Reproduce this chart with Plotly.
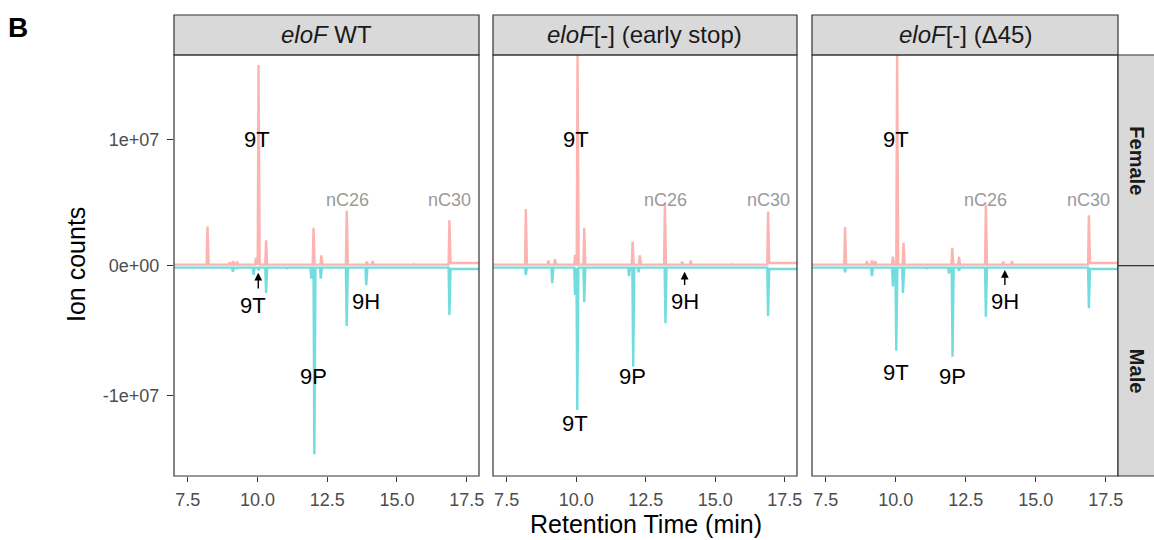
import plotly.graph_objects as go

W, H = 1154, 540

genotypes = ["<i>eloF</i> WT", "<i>eloF</i>[-] (early stop)", "<i>eloF</i>[-] (Δ45)"]
sexes = ["Female", "Male"]

# Peak retention times (min) and apex ion counts
wt_female_t = [8.21, 9.00, 9.13, 9.27, 9.95, 10.04, 10.31, 12.01, 12.29, 13.20, 13.92, 14.13, 15.59, 16.88]
wt_female_y = [3.1e6, 0.25e6, 0.35e6, 0.3e6, 0.6e6, 15.97e6, 2.0e6, 3.0e6, 0.8e6, 4.35e6, 0.3e6, 0.35e6, 0.1e6, 3.6e6]
wt_male_t = [8.21, 9.12, 9.25, 9.86, 10.04, 10.31, 11.06, 11.30, 11.93, 12.04, 12.27, 13.20, 13.90, 16.88]
wt_male_y = [-0.2e6, -0.46e6, -0.2e6, -0.7e6, -0.35e6, -2.1e6, -0.2e6, -0.2e6, -1.0e6, -14.5e6, -1.0e6, -4.64e6, -1.5e6, -3.8e6]

es_female_t = [8.19, 9.00, 9.24, 9.96, 10.05, 10.29, 11.10, 12.03, 12.29, 13.19, 13.81, 14.12, 15.60, 16.90]
es_female_y = [4.5e6, 0.4e6, 0.5e6, 0.85e6, 16.9e6, 3.0e6, 0.1e6, 1.9e6, 0.8e6, 4.9e6, 0.3e6, 0.4e6, 0.1e6, 4.3e6]
es_male_t = [8.19, 9.14, 9.96, 10.04, 10.29, 11.05, 11.90, 12.05, 12.24, 13.21, 13.90, 16.90]
es_male_y = [-0.7e6, -1.35e6, -2.25e6, -11.1e6, -2.8e6, -0.2e6, -0.8e6, -7.77e6, -0.5e6, -4.43e6, -0.15e6, -3.87e6]

d45_female_t = [8.19, 8.97, 9.15, 9.27, 9.90, 10.05, 10.28, 12.02, 12.26, 13.22, 13.84, 14.15, 15.60, 16.90]
d45_female_y = [3.05e6, 0.35e6, 0.4e6, 0.35e6, 0.7e6, 16.9e6, 1.8e6, 1.4e6, 0.7e6, 4.83e6, 0.3e6, 0.35e6, 0.1e6, 4.0e6]
d45_male_t = [8.19, 9.15, 9.90, 10.02, 10.26, 11.10, 11.90, 12.03, 12.26, 13.22, 13.90, 16.90]
d45_male_y = [-0.5e6, -0.8e6, -1.6e6, -6.54e6, -2.1e6, -0.2e6, -0.6e6, -7.0e6, -0.4e6, -3.92e6, -0.15e6, -3.28e6]

# baseline level before / after the last peak
female_base, female_tail = 0.05e6, 0.2e6
male_base, male_tail = -0.15e6, -0.25e6

x_ticks = [7.5, 10.0, 12.5, 15.0, 17.5]
x_tick_text = ["7.5", "10.0", "12.5", "15.0", "17.5"]
female_ticks = [0, 1e7]
female_tick_text = ["0e+00", "1e+07"]
male_ticks = [-1e7]
male_tick_text = ["-1e+07"]

# peak labels: (text, retention time, ion counts)
female_labels = [
    [("9T", 10.0, 1.0e7)],
    [("9T", 9.98, 1.0e7)],
    [("9T", 10.02, 1.0e7)],
]
standards = [
    [("nC26", 13.21, 5.2e6), ("nC30", 16.87, 5.2e6)],
    [("nC26", 13.21, 5.2e6), ("nC30", 16.90, 5.2e6)],
    [("nC26", 13.22, 5.2e6), ("nC30", 16.88, 5.2e6)],
]
male_labels = [
    [("9T", 9.85, -3.09e6), ("9H", 13.88, -2.77e6), ("9P", 12.02, -8.56e6)],
    [("9H", 13.91, -2.77e6), ("9P", 12.04, -8.56e6), ("9T", 9.97, -12.12e6)],
    [("9H", 13.90, -2.77e6), ("9T", 10.00, -8.18e6), ("9P", 12.03, -8.51e6)],
]
# arrows: (retention time, tail ion counts, head ion counts)
male_arrows = [
    (10.03, -1.87e6, -0.54e6),
    (13.90, -1.60e6, -0.46e6),
    (13.90, -1.60e6, -0.33e6),
]

series = [
    (wt_female_t, wt_female_y, wt_male_t, wt_male_y),
    (es_female_t, es_female_y, es_male_t, es_male_y),
    (d45_female_t, d45_female_y, d45_male_t, d45_male_y),
]


def chromatogram(times, heights, base, tail, t0=7.0, t1=18.0):
    xs, ys = [t0], [base]
    for k, (t, h) in enumerate(zip(times, heights)):
        after = tail if k == len(times) - 1 else base
        xs += [t - 0.03, t, t + 0.04]
        ys += [base, h, after]
    xs.append(t1)
    ys.append(tail)
    return xs, ys


# layout geometry (pixels)
col_px = [(174, 479), (493, 797), (812, 1118)]
row_px = [(55, 265.7), (265.7, 476)]
strip_top = 15
x_range = [7.01, 17.94]
y_ranges = [[-0.02e6, 16.76e6], [-16.18e6, 0.0]]

PINK = "rgba(248,118,109,0.55)"
CYAN = "rgba(0,191,196,0.55)"
DARK = "#333333"
TICK = "#4D4D4D"
FONT = "Liberation Sans, Arial, sans-serif"

fig = go.Figure()
layout = dict(
    width=W, height=H, margin=dict(l=0, r=0, t=0, b=0, autoexpand=False),
    paper_bgcolor="white", plot_bgcolor="white", showlegend=False,
    font=dict(family=FONT, color="black"),
)
annotations = []
shapes = []


def px(x):
    return x / W


def py(y):
    return 1 - y / H


def text_ann(text, x, y, xref, yref, size, color="black", angle=0):
    return dict(text=text, x=x, y=y, xref=xref, yref=yref, showarrow=False,
                xanchor="center", yanchor="middle", textangle=angle,
                font=dict(size=size, color=color, family=FONT))


for c in range(3):
    ft, fy, mt, my = series[c]
    for r in range(2):
        n = r * 3 + c + 1
        xa = "xaxis" if n == 1 else f"xaxis{n}"
        ya = "yaxis" if n == 1 else f"yaxis{n}"
        xr = "x" if n == 1 else f"x{n}"
        yr = "y" if n == 1 else f"y{n}"
        bottom = r == 1
        layout[xa] = dict(
            domain=[px(col_px[c][0]), px(col_px[c][1])], range=x_range, anchor=yr,
            showgrid=False, zeroline=False, showline=False,
            tickvals=x_ticks if bottom else [], ticktext=x_tick_text if bottom else [],
            ticks="outside" if bottom else "", ticklen=5, tickwidth=1.2, tickcolor=DARK,
            showticklabels=bottom, tickfont=dict(size=18, color=TICK, family=FONT),
            ticklabelstandoff=2, automargin=False,
        )
        left = c == 0
        layout[ya] = dict(
            domain=[py(row_px[r][1]), py(row_px[r][0])], range=y_ranges[r], anchor=xr,
            showgrid=False, zeroline=False, showline=False,
            tickvals=(female_ticks if r == 0 else male_ticks) if left else [],
            ticktext=(female_tick_text if r == 0 else male_tick_text) if left else [],
            ticks="outside" if left else "", ticklen=6, tickwidth=1.2, tickcolor=DARK,
            showticklabels=left, tickfont=dict(size=18, color=TICK, family=FONT),
            ticklabelstandoff=4, automargin=False,
        )
        if r == 0:
            xs, ys = chromatogram(ft, fy, female_base, female_tail)
            color = PINK
        else:
            xs, ys = chromatogram(mt, my, male_base, male_tail)
            color = CYAN
        fig.add_trace(go.Scatter(x=xs, y=ys, mode="lines", xaxis=xr, yaxis=yr,
                                 line=dict(color=color, width=2.4), hoverinfo="skip"))
        if r == 0:
            for txt, t, v in female_labels[c]:
                annotations.append(text_ann(txt, t, v, xr, yr, 22))
            for txt, t, v in standards[c]:
                annotations.append(text_ann(txt, t, v, xr, yr, 18, "#9A9A9A"))
        else:
            for txt, t, v in male_labels[c]:
                annotations.append(text_ann(txt, t, v, xr, yr, 22))
            at, tail_v, head_v = male_arrows[c]
            annotations.append(dict(text="", x=at, y=head_v, ax=at, ay=tail_v,
                                    xref=xr, yref=yr, axref=xr, ayref=yr, showarrow=True,
                                    arrowhead=2, arrowsize=1.1, arrowwidth=1.4, arrowcolor="black"))

    # column strip and panel border
    x0, x1 = px(col_px[c][0]), px(col_px[c][1])
    shapes.append(dict(type="rect", xref="paper", yref="paper", x0=x0, x1=x1,
                       y0=py(row_px[0][0]), y1=py(strip_top),
                       fillcolor="#D9D9D9", line=dict(color=DARK, width=1.2), layer="above"))
    shapes.append(dict(type="rect", xref="paper", yref="paper", x0=x0, x1=x1,
                       y0=py(row_px[1][1]), y1=py(row_px[0][0]),
                       fillcolor="rgba(0,0,0,0)", line=dict(color=DARK, width=1.2), layer="above"))
    annotations.append(text_ann(genotypes[c], (x0 + x1) / 2, py((strip_top + row_px[0][0]) / 2),
                                "paper", "paper", 24, "#1A1A1A"))

# row strips on the right
for r in range(2):
    shapes.append(dict(type="rect", xref="paper", yref="paper", x0=px(col_px[2][1]), x1=1.02,
                       y0=py(row_px[r][1]), y1=py(row_px[r][0]),
                       fillcolor="#D9D9D9", line=dict(color=DARK, width=1.2), layer="above"))
    annotations.append(text_ann(f"<b>{sexes[r]}</b>", px(1137), py((row_px[r][0] + row_px[r][1]) / 2),
                                "paper", "paper", 20, "#1A1A1A", angle=90))

annotations.append(text_ann("Ion counts", px(76), py(265), "paper", "paper", 25, angle=-90))
annotations.append(text_ann("Retention Time (min)", px(646), py(524), "paper", "paper", 25))
annotations.append(text_ann("<b>B</b>", px(18), py(27), "paper", "paper", 28))

layout["annotations"] = annotations
layout["shapes"] = shapes
fig.update_layout(**layout)
fig.write_html("out.html")
